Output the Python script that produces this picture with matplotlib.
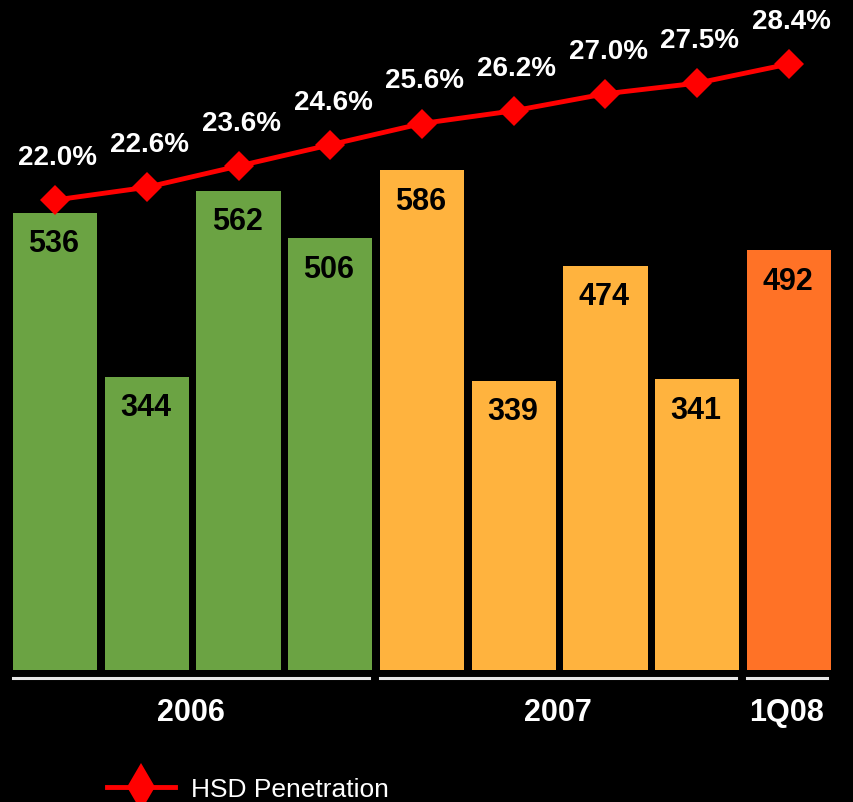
import matplotlib.pyplot as plt
from matplotlib.lines import Line2D
from matplotlib.transforms import blended_transform_factory

# ── Data ──────────────────────────────────────────────────────────────────────
quarters = ["1Q06", "2Q06", "3Q06", "4Q06", "1Q07", "2Q07", "3Q07", "4Q07", "1Q08"]
net_adds = [536, 344, 562, 506, 586, 339, 474, 341, 492]
hsd_penetration = [22.0, 22.6, 23.6, 24.6, 25.6, 26.2, 27.0, 27.5, 28.4]
bar_colors = ["#6ba343"] * 4 + ["#ffb33e"] * 4 + ["#ff7226"]

group_labels = ["2006", "2007", "1Q08"]
group_spans = [(0, 3), (4, 7), (8, 8)]

# ── Figure ────────────────────────────────────────────────────────────────────
plt.rcParams["font.family"] = ["Liberation Sans", "DejaVu Sans"]

fig = plt.figure(figsize=(8.54, 8.03), dpi=100, facecolor="black")
ax = fig.add_axes([13 / 854, 1 - 671 / 803, 818 / 854, 671 / 803])
ax.set_facecolor("black")

x = list(range(len(quarters)))
ax.bar(x, net_adds, width=0.92, color=bar_colors, zorder=2)
ax.set_xlim(-0.46, 8.46)
ax.set_ylim(0, 786.6)

# value labels inside the bars
for xi, v in zip(x, net_adds):
    ax.annotate(f"{v}", (xi, v), xytext=(-1, -22), textcoords="offset points",
                ha="center", va="center", fontsize=22, fontweight="bold",
                color="black", zorder=3)

for side in ["top", "right", "bottom", "left"]:
    ax.spines[side].set_visible(False)
ax.set_xticks([])
ax.set_yticks(range(100, 501, 100))
ax.tick_params(axis="y", direction="in", length=2, width=1, color="#1a1a1a",
               labelleft=False)

# penetration line on its own scale
ax2 = ax.twinx()
ax2.set_ylim(-0.118, 31.46)
ax2.plot(x, hsd_penetration, color="#ff0000", lw=3.5, marker="D", ms=15,
         markeredgewidth=0, zorder=4)
for xi, p in zip(x, hsd_penetration):
    ax2.annotate(f"{p:.1f}%", (xi, p), xytext=(2, 31), textcoords="offset points",
                 ha="center", va="center", fontsize=20, fontweight="bold",
                 color="white")
ax2.axis("off")

# group underlines and year labels below the bars
trans = blended_transform_factory(ax.transData, ax.transAxes)
for label, (a, b) in zip(group_labels, group_spans):
    ax.plot([a - 0.46, b + 0.42], [-0.012, -0.012], transform=trans,
            color="#e6e6e6", lw=2.2, clip_on=False)
    ax.text((a + b) / 2 - 0.02, -0.0625, label, transform=trans, ha="center",
            va="center", fontsize=22, fontweight="bold", color="white")

# legend
handle = Line2D([], [], color="#ff0000", lw=3.5, marker="d", ms=24,
                markeredgewidth=0)
fig.legend([handle], ["HSD Penetration"], loc="center left",
           bbox_to_anchor=(83 / 854, 1 - 790 / 803), frameon=False,
           fontsize=19, labelcolor="white", handlelength=2.6, handletextpad=0.6)

fig.savefig("out.png", dpi=100, facecolor="black")
